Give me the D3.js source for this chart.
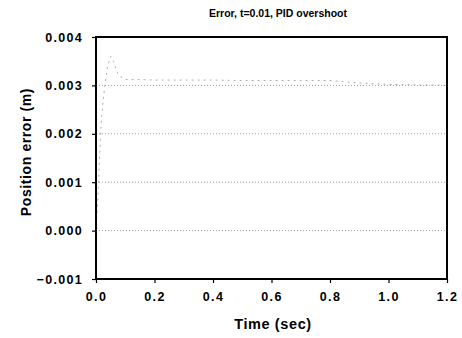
<!DOCTYPE html>
<html>
<head>
<meta charset="utf-8">
<script src="https://cdn.jsdelivr.net/npm/d3@7"></script>
<style>
  body { margin: 0; background: #fff; }
  text { font-family: Arial, "Liberation Sans", sans-serif; }
</style>
</head>
<body>
<div id="chart"></div>
<script>
// data
const times = [0, 0.005, 0.01, 0.015, 0.02, 0.03, 0.04, 0.05, 0.06, 0.07, 0.08, 0.1, 0.15, 0.2, 0.3, 0.4, 0.5, 0.6, 0.7, 0.8, 0.9, 1.0, 1.1, 1.2];
const errors = [0, 0.0005, 0.0012, 0.0019, 0.0024, 0.0030, 0.0034, 0.0036, 0.0035, 0.0033, 0.0032, 0.00312, 0.00312, 0.00311, 0.00311, 0.00311, 0.0031, 0.0031, 0.0031, 0.0031, 0.00305, 0.00302, 0.00301, 0.003];
const xTicks = [0, 0.2, 0.4, 0.6, 0.8, 1.0, 1.2];
const yTicks = [-0.001, 0, 0.001, 0.002, 0.003, 0.004];
const gridValues = [0, 0.001, 0.002, 0.003];

const W = 462, H = 338;
const margin = { left: 96, right: 15, top: 37, bottom: 59 };
const width = W - margin.left - margin.right;
const height = H - margin.top - margin.bottom;

const svg = d3.select("#chart").append("svg")
  .attr("width", W).attr("height", H);

const g = svg.append("g")
  .attr("transform", "translate(" + margin.left + "," + margin.top + ")");

const x = d3.scaleLinear().domain([0, 1.2]).range([0, width]);
const y = d3.scaleLinear().domain([-0.001, 0.004]).range([height, 0]);

// dotted gridlines
g.selectAll(".grid")
  .data(gridValues)
  .enter().append("line")
  .attr("x1", 0).attr("x2", width)
  .attr("y1", d => y(d)).attr("y2", d => y(d))
  .attr("stroke", "#888").attr("stroke-width", 0.8)
  .attr("stroke-dasharray", "1,2");

// the error trace (very faint in the scan)
const line = d3.line().x((d, i) => x(times[i])).y(d => y(d));
g.append("path")
  .datum(errors)
  .attr("d", line)
  .attr("fill", "none")
  .attr("stroke", "#999")
  .attr("stroke-width", 0.8)
  .attr("stroke-dasharray", "2,4");

// axes
const xAxis = g.append("g")
  .attr("transform", "translate(0," + height + ")")
  .call(d3.axisBottom(x).tickValues(xTicks).tickFormat(d3.format(".1f")).tickSize(4).tickPadding(9));
const yAxis = g.append("g")
  .call(d3.axisLeft(y).tickValues(yTicks).tickFormat(d3.format(".3f")).tickSize(4).tickPadding(9));

[xAxis, yAxis].forEach(a => {
  a.select(".domain").remove();
  a.selectAll("line").attr("stroke", "#000").attr("stroke-width", 1.2);
  a.selectAll("text")
    .attr("font-size", 12.5).attr("font-weight", "bold")
    .attr("letter-spacing", 1.3)
    .attr("font-family", "Arial, 'Liberation Sans', sans-serif").attr("fill", "#000");
});

// plot frame
g.append("rect")
  .attr("x", 0).attr("y", 0)
  .attr("width", width).attr("height", height)
  .attr("fill", "none").attr("stroke", "#000").attr("stroke-width", 2);

// title
svg.append("text")
  .attr("x", 278).attr("y", 17)
  .attr("text-anchor", "middle")
  .attr("font-size", 10.5).attr("font-weight", "bold")
  .text("Error, t=0.01, PID overshoot");

// axis labels
svg.append("text")
  .attr("x", 273).attr("y", 329)
  .attr("text-anchor", "middle")
  .attr("font-size", 14.5).attr("font-weight", "bold")
  .attr("letter-spacing", 0.6)
  .text("Time (sec)");

svg.append("text")
  .attr("transform", "translate(31,152) rotate(-90)")
  .attr("text-anchor", "middle")
  .attr("font-size", 14).attr("font-weight", "bold")
  .attr("letter-spacing", 0.6)
  .text("Position error (m)");
</script>
</body>
</html>
